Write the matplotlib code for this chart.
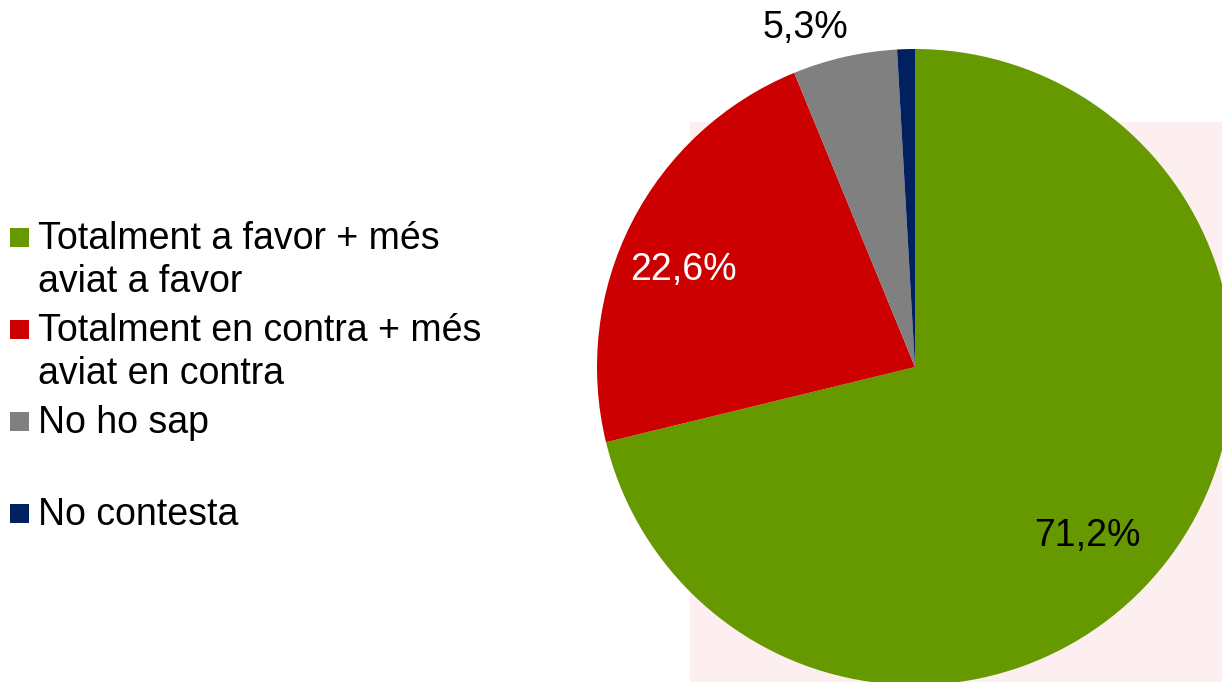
import numpy as np
import matplotlib
matplotlib.use('Agg')
import matplotlib.pyplot as plt
from matplotlib.patches import Rectangle

plt.rcParams['font.family'] = ['Liberation Sans', 'DejaVu Sans']

categories = ['Totalment a favor + més\naviat a favor',
              'Totalment en contra + més\naviat en contra',
              'No ho sap',
              'No contesta']
values = [71.2, 22.6, 5.3, 0.9]
value_labels = ['71,2%', '22,6%', '5,3%', '']
colors = ['#669900', '#cc0000', '#808080', '#002060']

W, H = 1222, 682
fig = plt.figure(figsize=(W / 100, H / 100), dpi=100)
ax = fig.add_axes([0, 0, 1, 1])

# faint background watermark (pink block behind the pie)
ax.add_patch(Rectangle((690, 0), 540, 560, color='#fdeef0', zorder=0, lw=0))

cx, cy, r = 915, H - 367, 318
wedges, _ = ax.pie(values, colors=colors, startangle=90, counterclock=False,
                   center=(cx, cy), radius=r, wedgeprops=dict(linewidth=0))

# value labels: (angle clockwise from top in deg, radius factor, colour)
label_pos = [(134.5, 0.76, 'black'), (-67.4, 0.79, 'white'), (-17.9, 1.12, 'black')]
for txt, (ang, f, c) in zip(value_labels, label_pos):
    a = np.deg2rad(ang)
    ax.text(cx + f * r * np.sin(a), cy + f * r * np.cos(a), txt, fontsize=27,
            color=c, ha='center', va='center')

# legend drawn by hand
x_sq, x_txt = 10, 38
base0, step, line_gap = H - 249, 92, 43
for i, (lab, col) in enumerate(zip(categories, colors)):
    yb = base0 - i * step
    ax.add_patch(Rectangle((x_sq, yb + 2), 19, 19, color=col, lw=0, zorder=3))
    for j, line in enumerate(lab.split('\n')):
        ax.text(x_txt, yb - j * line_gap, line, fontsize=27, va='baseline',
                ha='left', zorder=3)

ax.set_xlim(0, W)
ax.set_ylim(0, H)
ax.set_aspect('auto')
ax.axis('off')

fig.savefig('out.png', dpi=100)
